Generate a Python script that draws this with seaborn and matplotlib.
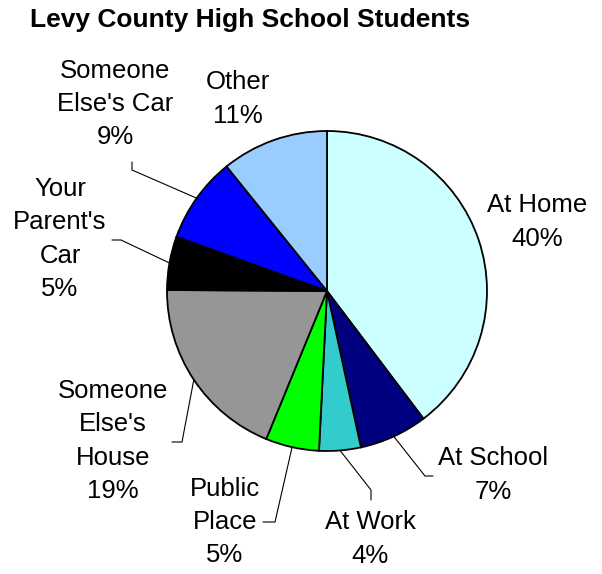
import numpy as np
import matplotlib.pyplot as plt
import seaborn as sns

# slice data, clockwise from 12 o'clock
places = ['At Home', 'At School', 'At Work', 'Public Place',
          "Someone Else's House", "Your Parent's Car", "Someone Else's Car", 'Other']
shares = [39.7, 6.9, 4.2, 5.4, 18.9, 5.4, 8.7, 10.8]
label_text = ['At Home', 'At School', 'At Work', 'Public\nPlace',
              "Someone\nElse's\nHouse", "Your\nParent's\nCar", "Someone\nElse's Car", 'Other']
colors = ['#CCFFFF', '#000080', '#33CCCC', '#00FF00',
          '#969696', '#000000', '#0000FF', '#99CCFF']

sns.set_style('white')
plt.rcParams['font.family'] = ['Liberation Sans', 'DejaVu Sans']

W, H = 602, 574
fig = plt.figure(figsize=(W / 100, H / 100), dpi=100)
ax = fig.add_axes([0, 0, 1, 1])

cx, cy, r = 327, H - 291, 160
wedges, _ = ax.pie(shares, colors=colors, startangle=90, counterclock=False,
                   center=(cx, cy), radius=r,
                   wedgeprops=dict(edgecolor='black', linewidth=1.3))
ax.set_xlim(0, W)
ax.set_ylim(0, H)
ax.set_aspect('equal')
ax.axis('off')

# label centres (pixel coords from top) and leader elbows (None = no leader)
label_pos = [(537, 222), (493, 475), (370, 539), (225, 522),
             (113, 441), (60, 239), (115, 104), (238, 99)]
leaders = [None,
           [(433, 476), (425, 476)],
           [(371, 500), (371, 490)],
           [(263, 522), (275, 522)],
           [(172, 442), (182, 442)],
           [(112, 240), (121, 240)],
           [(132, 162), (132, 170)],
           None]

for w, p, txt, (lx, ly), lead in zip(wedges, shares, label_text, label_pos, leaders):
    ax.text(lx, H - ly, f'{txt}\n{round(p)}%', ha='center', va='center',
            fontsize=18.5, linespacing=1.5, color='black')
    if lead is not None:
        mid = np.deg2rad((w.theta1 + w.theta2) / 2)
        ex, ey = cx + r * np.cos(mid), cy + r * np.sin(mid)
        xs = [q[0] for q in lead] + [ex]
        ys = [H - q[1] for q in lead] + [ey]
        ax.plot(xs, ys, color='black', lw=0.8)

fig.text(30 / W, 1 - 20 / H, 'Levy County High School Students', ha='left', va='center',
         fontsize=19, fontweight='bold', color='black')

fig.savefig('out.png', dpi=100)
